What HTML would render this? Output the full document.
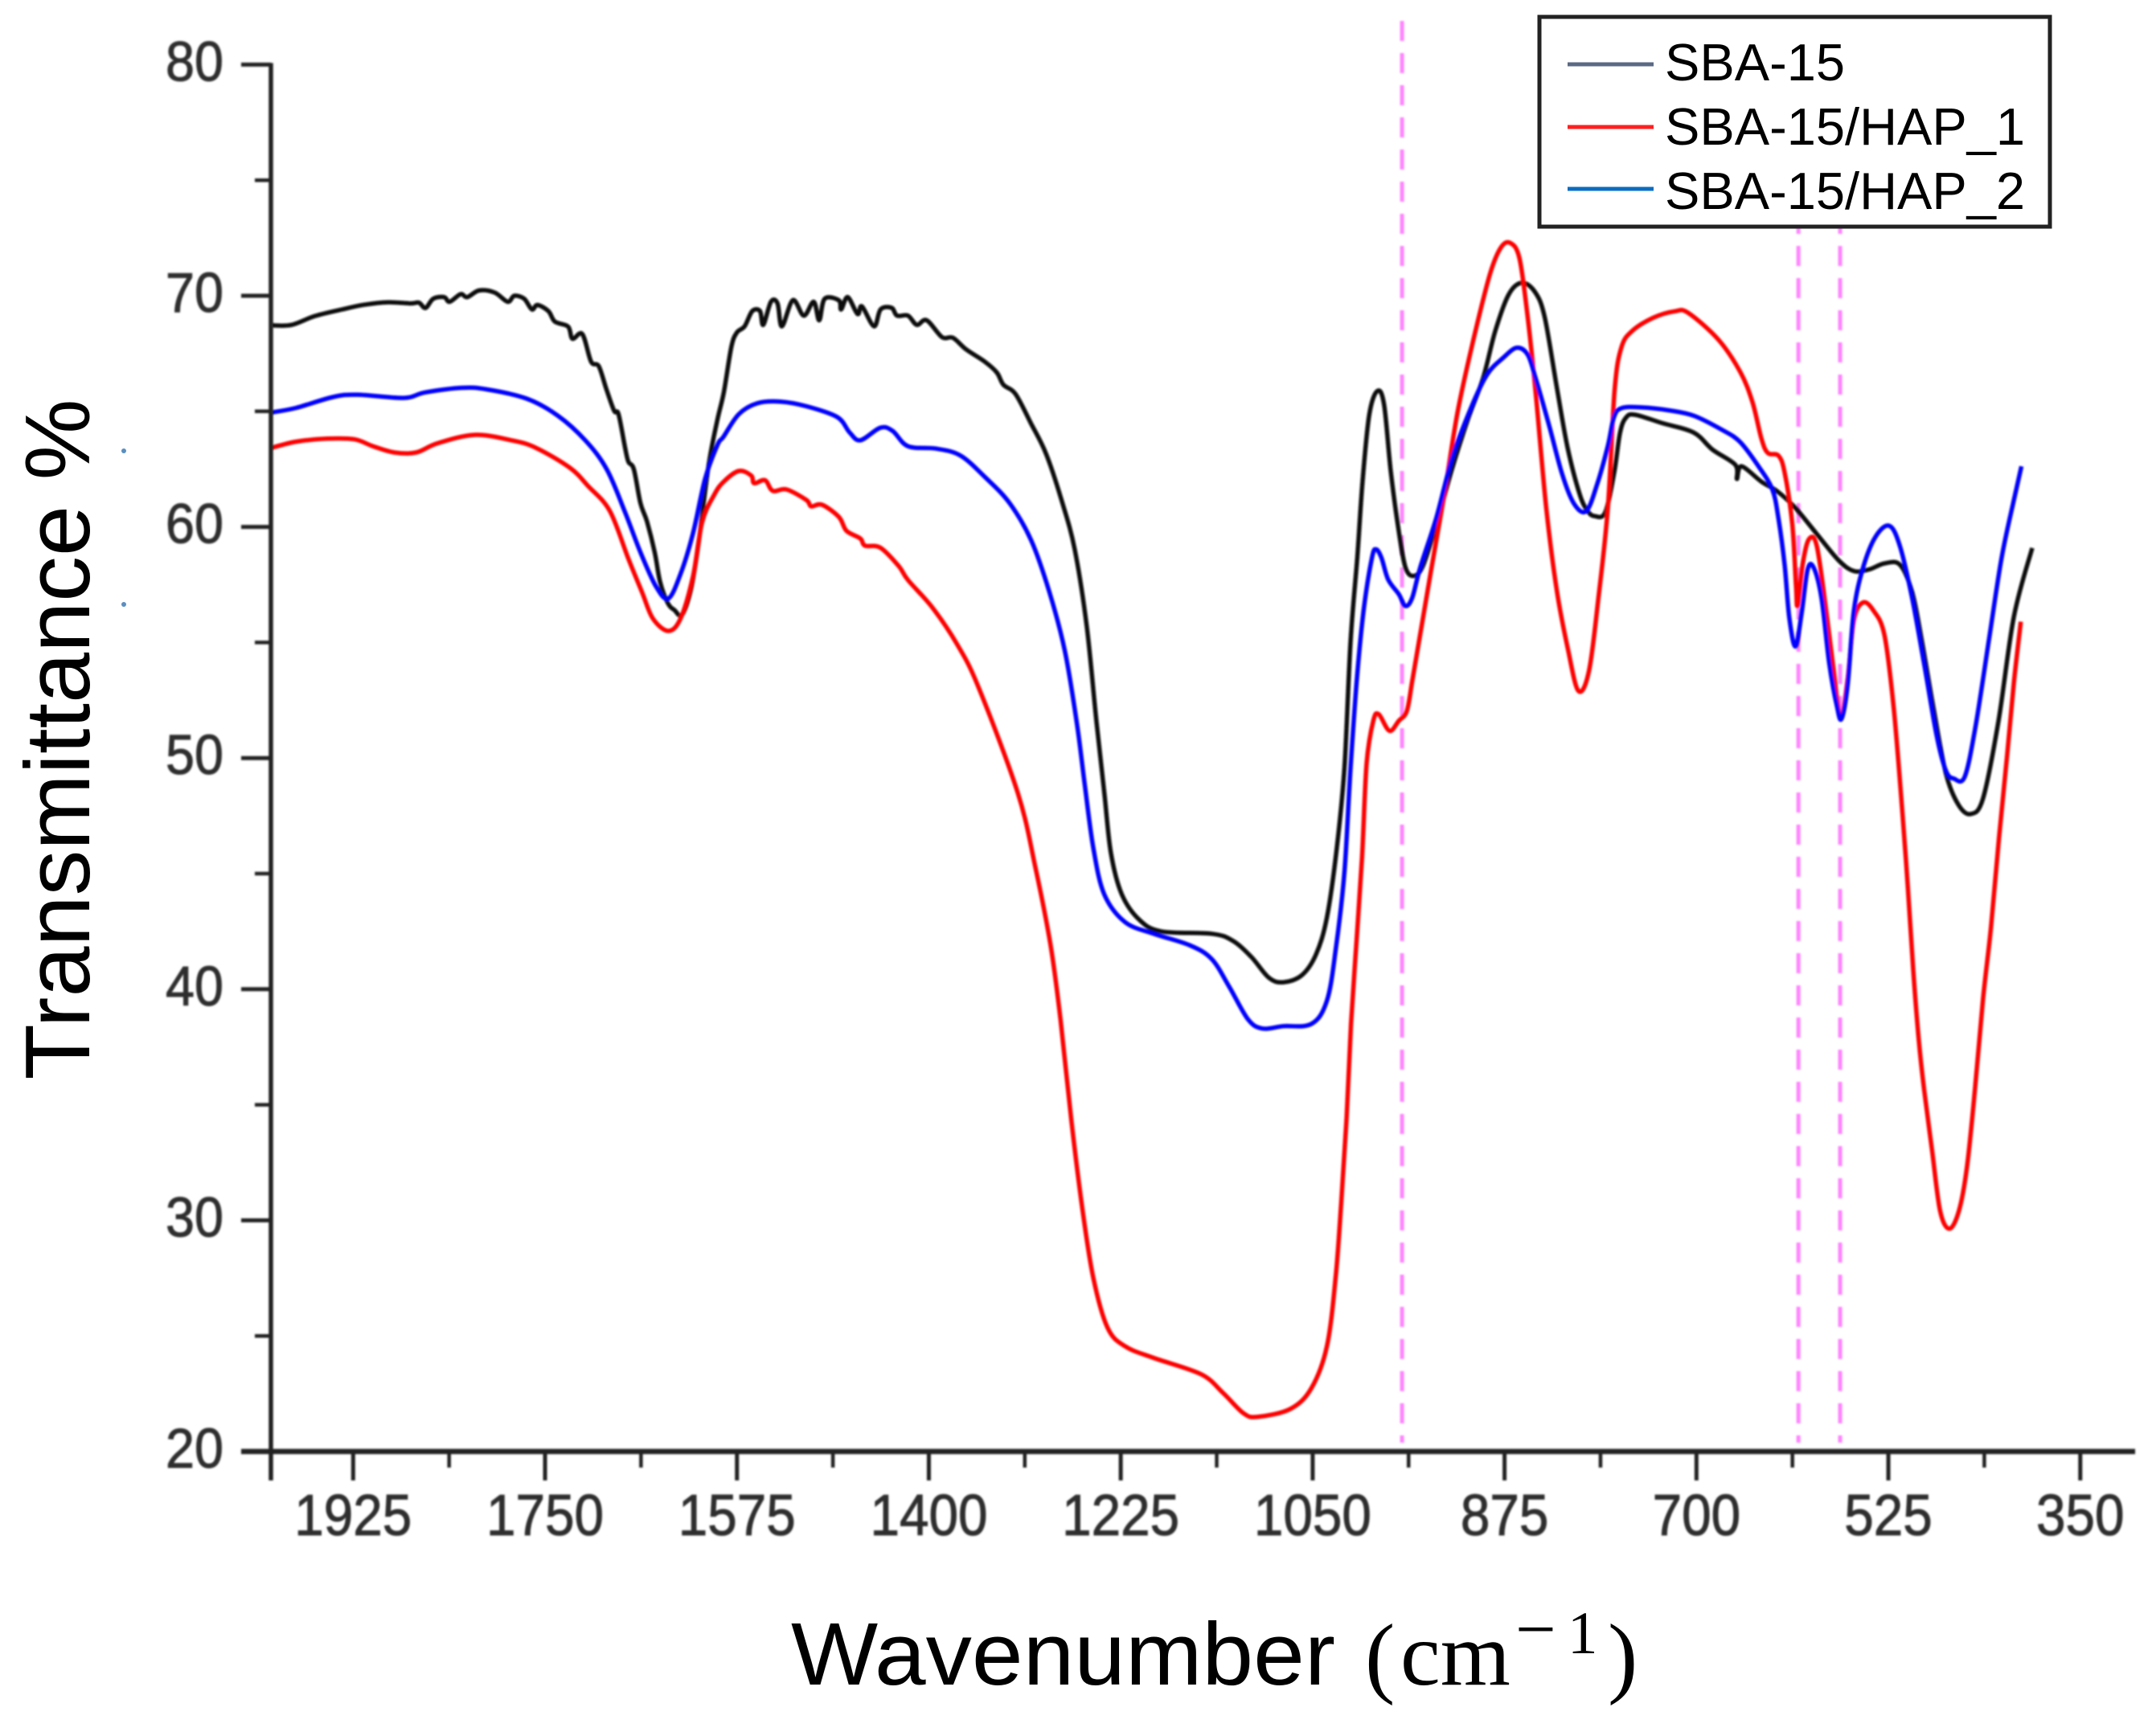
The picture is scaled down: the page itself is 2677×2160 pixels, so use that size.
<!DOCTYPE html>
<html lang="en">
<head>
<meta charset="utf-8">
<title>FTIR transmittance spectra</title>
<style>
html,body{margin:0;padding:0;background:#fff;}
svg{display:block;}
text{font-family:"Liberation Sans",sans-serif;}
</style>
</head>
<body>
<svg id="chart" xmlns="http://www.w3.org/2000/svg" width="2677" height="2160" viewBox="0 0 2677 2160">
  <defs>
    <filter id="soft" x="-5%" y="-5%" width="110%" height="110%"><feGaussianBlur stdDeviation="1"/></filter>
  </defs>
  <rect x="0" y="0" width="2677" height="2160" fill="#ffffff"/>
  <g id="markers" filter="url(#soft)"></g>
  <g id="series" filter="url(#soft)"></g>
  <g id="axes" filter="url(#soft)"></g>
  <circle cx="154" cy="561" r="3" fill="#5a8fc0"/>
  <circle cx="154" cy="752" r="3" fill="#5a8fc0"/>

  <text transform="translate(111,920) rotate(-90)" text-anchor="middle" font-size="114" textLength="847" lengthAdjust="spacingAndGlyphs" fill="#000">Transmittance %</text>

  <g fill="#000">
    <text x="984" y="2096" font-size="110" textLength="677" lengthAdjust="spacingAndGlyphs">Wavenumber</text>
    <text x="1698" y="2098" font-size="112" style="font-family:'Liberation Serif',serif">(</text>
    <text x="1742" y="2096" font-size="112" style="font-family:'Liberation Serif',serif">cm</text>
    <text x="1885" y="2057" font-size="90" style="font-family:'Liberation Serif',serif">−</text>
    <text x="1950" y="2057" font-size="75" style="font-family:'Liberation Serif',serif">1</text>
    <text x="2000" y="2098" font-size="112" style="font-family:'Liberation Serif',serif">)</text>
  </g>

  <g>
    <rect x="1915" y="21" width="635" height="261" fill="#ffffff" stroke="#222" stroke-width="5"/>
    <line x1="1950" x2="2057" y1="80" y2="80" stroke="#5a6a85" stroke-width="5"/>
    <text x="2071" y="100" font-size="65" fill="#000">SBA-15</text>
    <line x1="1950" x2="2057" y1="158" y2="158" stroke="#ff2020" stroke-width="5"/>
    <text x="2071" y="180" font-size="65" fill="#000">SBA-15/HAP_1</text>
    <line x1="1950" x2="2057" y1="235" y2="235" stroke="#0a6cc0" stroke-width="5"/>
    <text x="2071" y="260" font-size="65" fill="#000">SBA-15/HAP_2</text>
  </g>
</svg>

<script>
const yMajorTicks = [20, 30, 40, 50, 60, 70, 80];
const yMinorTicks = [25, 35, 45, 55, 65, 75];
const xMajorTicks = [1925, 1750, 1575, 1400, 1225, 1050, 875, 700, 525, 350];
const xMinorTicks = [1837.5, 1662.5, 1487.5, 1312.5, 1137.5, 962.5, 787.5, 612.5, 437.5];
const markerWavenumbers = [968.5, 607, 569];

const sba15W = [1999.5,1981,1960,1935,1915,1893,1873,1865,1859,1852,1842,1837,1827,1821,1810,1796,1784,1778,1769,1762,1757,1747,1741,1729,1725,1716,1708,1701,1694,1687,1683,1677,1674,1669,1663,1657,1650,1645,1638,1632,1625,1617,1610,1601,1593,1587,1580,1575,1568,1561,1554,1551,1544,1538,1534,1524,1514,1505,1500,1495,1482,1480,1474,1465,1461,1450,1444,1434,1429,1419,1411,1402,1388,1378,1366,1349,1338,1332,1321,1307,1293,1279,1267,1256,1247,1240,1234,1224,1208,1188,1142,1123,1106,1090,1077,1060,1047,1037,1028,1021,1015.4,1009.3,1004.5,998.3,991,984.9,978.8,971.5,965.3,958,949.5,937.2,922.6,907.9,894.5,883.5,871.3,859,846.8,838.3,827.3,817.5,806.5,799.2,793,783.3,775,769.7,764.1,755.7,730.4,702.4,685.5,664.5,663.1,658.9,640.6,626.6,609.8,590.2,570.5,556.5,542.5,528.5,514.4,503.2,494.8,483.6,472.4,461.1,449.9,438.7,424.7,410.6,393.8];
const sba15V = [68.72,68.74,69.12,69.41,69.61,69.72,69.67,69.7,69.47,69.87,69.94,69.74,70.07,69.94,70.23,70.14,69.74,70,69.87,69.41,69.6,69.34,68.88,68.67,68.14,68.34,67.15,66.95,65.95,65.02,64.88,63.42,62.82,62.49,61.03,60.23,58.9,57.6,56.7,56.4,56.2,57.3,59.3,62.62,64.6,65.82,67.81,68.41,68.68,69.34,69.34,68.74,69.74,69.67,68.68,69.81,69.14,69.74,68.94,69.87,69.8,69.41,69.94,69.21,69.54,68.68,69.41,69.48,69.14,69.14,68.74,68.94,68.21,68.18,67.68,67.15,66.68,66.15,65.75,64.49,63.15,61.16,59.03,55.7,51.5,48.5,45.9,44.1,43,42.5,42.4,42.1,41.4,40.5,40.3,40.6,41.5,43.1,46.1,49.6,55.07,58.67,61.98,64.87,65.88,65.3,62.42,59.82,58.24,57.88,58.31,60.11,62.56,64.72,66.45,68.47,70.05,70.56,70.13,69.05,66.02,63.43,61.41,60.69,60.47,60.62,62.35,64.08,64.74,64.85,64.48,64.08,63.35,62.68,62.08,62.62,61.95,61.55,60.82,59.69,58.56,58.09,58.16,58.42,58.36,57.16,55.17,52.1,49.31,47.98,47.58,48.25,51.57,56.1,59.09];

const hap1W = [1999.5,1977,1949,1923.8,1906.9,1887.3,1867.7,1848,1814.4,1780.7,1758.3,1727.4,1710.6,1690.9,1674.1,1661.5,1651.7,1637.6,1626.4,1615.2,1606.8,1595.6,1587,1573.3,1562,1559.3,1549.4,1542.4,1529.8,1511.6,1507.4,1497.5,1482.1,1475.1,1462.5,1458.3,1444.2,1427.4,1419,1396.6,1374.1,1354.5,1319,1303,1289,1280,1270,1260,1250,1237,1221,1195,1152,1132,1113,1100,1070,1051,1037,1029,1024,1019,1015,1010,1005,1000.8,994.7,989.8,980,971.5,964.1,959.2,951.9,942.1,929.9,917.7,903,888.4,878.6,870,861.5,854.2,846.8,837,827.3,817.5,807.7,798,789.4,780.8,774.7,768.6,758.8,739.3,719.8,707.5,680,660,649,640.7,635,625.2,619.6,612.6,609.2,607.8,602.8,597.2,590.2,581.7,574.7,568.5,562.1,556.5,548.1,538.3,528.5,520,512,507.2,502.3,497.4,492.5,485.2,477.8,469.3,460.7,453.4,446,438.7,431.4,424.1,416.7,410.6,404.2];
const hap1V = [63.42,63.69,63.82,63.79,63.49,63.22,63.22,63.62,63.98,63.75,63.42,62.56,61.76,60.69,58.63,57.17,56.04,55.5,56.04,57.83,60.2,61.4,61.96,62.42,62.22,61.89,62.02,61.56,61.62,61.16,60.89,60.96,60.43,59.83,59.5,59.19,59.1,58.3,57.7,56.5,54.91,53.04,48.5,45.3,41.9,38.7,34.3,30.5,27.5,25.35,24.55,24.05,23.35,22.55,21.65,21.5,21.85,22.75,24.55,27.55,30.75,34.5,38.5,42.1,45.7,49.77,51.61,51.9,51.18,51.61,52.04,53.34,55.36,58.1,61.41,65.01,68.18,70.92,72.07,72.29,71.64,69.19,65.88,60.83,57.23,54.78,52.91,53.77,56.94,60.83,65.88,67.75,68.47,69.05,69.33,69.26,68.1,66.7,65.41,63.81,63.2,63.08,62.35,60.09,57.43,56.63,58.49,59.49,59.16,56.36,53.7,51.7,53.43,55.96,56.73,56.36,55.3,52.1,47.5,44.39,40.82,37.87,35.69,33.05,30.41,29.64,30.41,32.28,35.69,39.58,42.68,46.56,50.13,53.24,55.9];

const hap2W = [1999.5,1977,1943.4,1921,1878.9,1859.2,1825.6,1803.1,1766.7,1738.6,1713.4,1693.7,1677,1663,1648.9,1637.6,1626.4,1615.2,1604,1592.7,1587.3,1573.3,1556.4,1535.4,1511.6,1483.5,1472.3,1462.5,1444.2,1433,1419,1393.8,1371.3,1348.9,1326.4,1306.8,1290,1276,1265,1258,1250,1240,1221,1195,1162,1142,1126,1109,1096,1077,1051,1037,1029,1021,1015.4,1009.3,1003.2,995.9,992.2,987.3,981.2,971.5,965.3,959.2,951.9,937.2,922.6,905.5,890.8,876.2,864,854,846.8,834.6,822.4,811.4,800.4,790.6,780.8,775.3,768.3,750,724.8,702.4,677.1,660.3,643.4,630.8,625.2,619.6,615.4,609.8,604.2,598.6,593,585.9,578.9,571.9,567.7,562.1,556.5,548.1,536.9,524.2,514.4,503.2,492,480.7,472.4,465.3,455.5,445.7,433.1,421.9,410.6,403.6];
const hap2V = [64.95,65.15,65.62,65.72,65.58,65.82,66.02,65.95,65.55,64.82,63.75,62.49,60.63,58.9,57.43,56.9,57.97,59.7,62.09,63.55,63.9,64.88,65.35,65.42,65.22,64.75,64.09,63.75,64.29,64.15,63.49,63.39,63.09,62.16,61.03,59.43,57.17,54.64,51.5,48.9,46.1,44.1,42.9,42.4,41.9,41.3,40.1,38.7,38.3,38.4,38.5,39.5,41.7,45.1,49.6,53.63,56.51,58.67,59.03,58.67,57.73,57.09,56.58,56.94,58.24,60.4,63,65.16,66.6,67.32,67.75,67.46,66.45,64.43,62.27,60.98,60.69,61.84,63.5,64.74,65.14,65.17,65.04,64.81,64.21,63.68,62.62,61.62,60.35,58.36,56.1,54.83,56.23,58.16,58.23,56.89,54.1,52.24,51.7,53.17,56.36,58.23,59.56,60.05,59.16,56.89,53.97,50.91,49.44,49.11,49.18,51.31,55.17,58.62,61.15,62.62];

const xPlotLeft = 337;
const xPixelsPerUnit = 1.3641;
const xDomainStart = 2000;
const yBaseline = 1806;
const yPixelsPerUnit = 28.76;
const yDomainStart = 20;

function xScale(w) { return xPlotLeft + (xDomainStart - w) * xPixelsPerUnit; }
function yScale(v) { return yBaseline - (v - yDomainStart) * yPixelsPerUnit; }

const NS = 'http://www.w3.org/2000/svg';
function make(parent, tag, attrs) {
  const el = document.createElementNS(NS, tag);
  for (const k in attrs) el.setAttribute(k, attrs[k]);
  parent.appendChild(el);
  return el;
}

function smoothPath(ws, vs) {
  const pts = ws.map(function (w, i) { return [xScale(w), yScale(vs[i])]; });
  let d = 'M' + pts[0][0].toFixed(1) + ' ' + pts[0][1].toFixed(1);
  for (let i = 0; i < pts.length - 1; i++) {
    const p0 = pts[Math.max(0, i - 1)];
    const p1 = pts[i];
    const p2 = pts[i + 1];
    const p3 = pts[Math.min(pts.length - 1, i + 2)];
    const c1x = p1[0] + (p2[0] - p0[0]) / 6;
    const c1y = p1[1] + (p2[1] - p0[1]) / 6;
    const c2x = p2[0] - (p3[0] - p1[0]) / 6;
    const c2y = p2[1] - (p3[1] - p1[1]) / 6;
    d += 'C' + c1x.toFixed(1) + ' ' + c1y.toFixed(1) + ' ' + c2x.toFixed(1) + ' ' + c2y.toFixed(1) + ' ' + p2[0].toFixed(1) + ' ' + p2[1].toFixed(1);
  }
  return d;
}

const markersG = document.getElementById('markers');
const seriesG = document.getElementById('series');
const axesG = document.getElementById('axes');

markerWavenumbers.forEach(function (w) {
  const el = make(markersG, 'line', {x1: xScale(w), x2: xScale(w), y1: 26, y2: 1795, stroke: '#ff85ff', 'stroke-width': 5, 'stroke-dasharray': '25 15'});
  
  
});

const lineSba15 = make(seriesG, 'path', {d: smoothPath(sba15W, sba15V), fill: 'none', stroke: '#111111', 'stroke-width': 5.5, 'stroke-linejoin': 'round'});



const lineHap1 = make(seriesG, 'path', {d: smoothPath(hap1W, hap1V), fill: 'none', stroke: '#ff0000', 'stroke-width': 5.5, 'stroke-linejoin': 'round'});



const lineHap2 = make(seriesG, 'path', {d: smoothPath(hap2W, hap2V), fill: 'none', stroke: '#0000ff', 'stroke-width': 5.5, 'stroke-linejoin': 'round'});



const yAxisLine = make(axesG, 'line', {x1: xPlotLeft, x2: xPlotLeft, y1: yScale(80) - 2, y2: yBaseline + 36, stroke: '#222222', 'stroke-width': 5.5});



const xAxisLine = make(axesG, 'line', {x1: xPlotLeft - 37, x2: 2656, y1: yBaseline, y2: yBaseline, stroke: '#222222', 'stroke-width': 6.5});



yMajorTicks.forEach(function (v) {
  const tick = make(axesG, 'line', {x1: xPlotLeft - 37, x2: xPlotLeft, y1: yScale(v), y2: yScale(v), stroke: '#222222', 'stroke-width': 5});
  
  
  const label = make(axesG, 'text', {x: 278, y: yScale(v) + 20, 'text-anchor': 'end', 'font-size': 70, textLength: 72, lengthAdjust: 'spacingAndGlyphs', fill: '#2e2e2e', stroke: '#2e2e2e', 'stroke-width': 1});
  
  
  label.textContent = String(v);
});

yMinorTicks.forEach(function (v) {
  const tick = make(axesG, 'line', {x1: xPlotLeft - 20, x2: xPlotLeft, y1: yScale(v), y2: yScale(v), stroke: '#222222', 'stroke-width': 4.5});
  
  
});

xMajorTicks.forEach(function (w) {
  const tick = make(axesG, 'line', {x1: xScale(w), x2: xScale(w), y1: yBaseline, y2: yBaseline + 36, stroke: '#222222', 'stroke-width': 5});
  
  
  const text = String(w);
  const label = make(axesG, 'text', {x: xScale(w), y: 1910, 'text-anchor': 'middle', 'font-size': 72, textLength: 36.5 * text.length, lengthAdjust: 'spacingAndGlyphs', fill: '#2e2e2e', stroke: '#2e2e2e', 'stroke-width': 1});
  
  
  label.textContent = text;
});

xMinorTicks.forEach(function (w) {
  const tick = make(axesG, 'line', {x1: xScale(w), x2: xScale(w), y1: yBaseline, y2: yBaseline + 20, stroke: '#222222', 'stroke-width': 4.5});
  
  
});
</script>
</body>
</html>
